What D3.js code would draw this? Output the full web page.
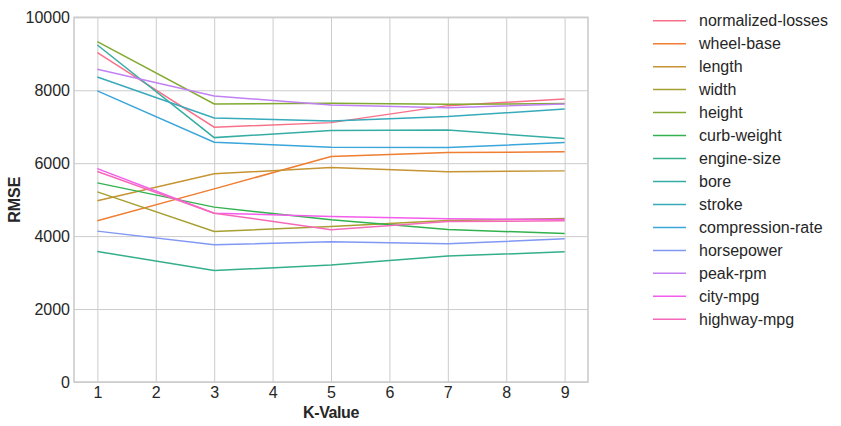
<!DOCTYPE html>
<html>
<head>
<meta charset="utf-8">
<script src="https://cdn.jsdelivr.net/npm/d3@7"></script>
<style>
  html, body { margin: 0; padding: 0; background: #ffffff; }
  svg { display: block; font-family: "Liberation Sans", Arial, sans-serif; }
</style>
</head>
<body>
<svg id="chart" width="841" height="426"></svg>
<script>
// ---- data ----
const kValues = [1, 3, 5, 7, 9];
const seriesNames = ["normalized-losses", "wheel-base", "length", "width", "height",
  "curb-weight", "engine-size", "bore", "stroke", "compression-rate",
  "horsepower", "peak-rpm", "city-mpg", "highway-mpg"];
const normalizedLosses = [9030, 6986, 7112, 7578, 7762];
const wheelBase        = [4419, 5296, 6181, 6290, 6310];
const lengthVals       = [4967, 5707, 5879, 5762, 5789];
const widthVals        = [5214, 4126, 4263, 4427, 4482];
const heightVals       = [9332, 7625, 7644, 7616, 7633];
const curbWeight       = [5460, 4795, 4447, 4181, 4071];
const engineSize       = [3578, 3058, 3205, 3452, 3570];
const bore             = [9241, 6701, 6893, 6912, 6674];
const stroke           = [8364, 7241, 7159, 7277, 7488];
const compressionRate  = [7981, 6575, 6438, 6427, 6564];
const horsepower       = [4137, 3762, 3844, 3789, 3926];
const peakRpm          = [8575, 7844, 7597, 7523, 7625];
const cityMpg          = [5852, 4630, 4537, 4474, 4455];
const highwayMpg       = [5770, 4630, 4173, 4400, 4419];
const seriesValues = [normalizedLosses, wheelBase, lengthVals, widthVals, heightVals,
  curbWeight, engineSize, bore, stroke, compressionRate, horsepower, peakRpm, cityMpg, highwayMpg];
const yTicks = [0, 2000, 4000, 6000, 8000, 10000];
const xTicks = [1, 2, 3, 4, 5, 6, 7, 8, 9];

(function () {
// ---- seaborn husl palette ----
const M = [[3.2406, -1.5372, -0.4986], [-0.9689, 1.8758, 0.0415], [0.0557, -0.2040, 1.0570]];
function maxChroma(L, H) {
  const hrad = H / 360 * 2 * Math.PI, sinH = Math.sin(hrad), cosH = Math.cos(hrad);
  const sub1 = Math.pow(L + 16, 3) / 1560896;
  const sub2 = sub1 > 0.008856 ? sub1 : L / 903.3;
  let result = Infinity;
  for (const [m1, m2, m3] of M) {
    const tp = (0.99915 * m1 + 1.05122 * m2 + 1.14460 * m3) * sub2;
    const rbottom = 0.86330 * m3 - 0.17266 * m2;
    const lbottom = 0.12949 * m3 - 0.38848 * m1;
    const bt = (rbottom * sinH + lbottom * cosH) * sub2;
    for (const t of [0, 1]) {
      const C = L * (tp - 1.05122 * t) / (bt + 0.17266 * sinH * t);
      if (C > 0 && C < result) result = C;
    }
  }
  return result;
}
function huslToRgb(H, S, L) {
  const C = maxChroma(L, H) / 100 * S;
  const hrad = H / 360 * 2 * Math.PI;
  const U = Math.cos(hrad) * C, V = Math.sin(hrad) * C;
  const t = (L + 16) / 116;
  const varY = Math.pow(t, 3) > 0.008856 ? Math.pow(t, 3) : (116 * t - 16) / 903.3;
  const varU = U / (13 * L) + 0.19784, varV = V / (13 * L) + 0.46834;
  const Y = varY;
  const X = 0 - (9 * Y * varU) / ((varU - 4) * varV - varU * varV);
  const Z = (9 * Y - 15 * varV * Y - varV * X) / (3 * varV);
  const fl = c => c <= 0.0031308 ? 12.92 * c : 1.055 * Math.pow(c, 1 / 2.4) - 0.055;
  return M.map(r => Math.max(0, Math.min(1, fl(r[0] * X + r[1] * Y + r[2] * Z))));
}
const n = seriesNames.length;
const colors = d3.range(n).map(i => {
  const h = (i / n + 0.01) % 1;
  const rgb = huslToRgb(h * 359, 0.9 * 99, 0.65 * 99);
  return d3.rgb(rgb[0] * 255, rgb[1] * 255, rgb[2] * 255).formatHex();
});

// ---- layout ----
const svg = d3.select("#chart");
const pLeft = 74, pRight = 588, pTop = 17.3, pBottom = 382;
const x = d3.scaleLinear().domain([0.6, 9.4]).range([pLeft, pRight]);
const y = d3.scaleLinear().domain([0, 10000]).range([pBottom, pTop]);
const textColor = "#262626", gridColor = "#cccccc";

const gx = svg.append("g").attr("transform", `translate(0,${pBottom})`)
  .call(d3.axisBottom(x).tickValues(xTicks).tickSize(-(pBottom - pTop)).tickPadding(2.5).tickFormat(d3.format("d")));
const gy = svg.append("g").attr("transform", `translate(${pLeft},0)`)
  .call(d3.axisLeft(y).tickValues(yTicks).tickSize(-(pRight - pLeft)).tickPadding(4).tickFormat(d3.format("d")));
[gx, gy].forEach(g => {
  g.select(".domain").remove();
  g.selectAll(".tick line").attr("stroke", gridColor).attr("stroke-width", 1);
  g.selectAll(".tick text").attr("fill", textColor).style("font-size", "16px")
    .style("font-family", "'Liberation Sans', Arial, sans-serif");
});
gx.selectAll(".tick text").attr("dy", "0.82em");

svg.append("rect").attr("x", pLeft).attr("y", pTop).attr("width", pRight - pLeft).attr("height", pBottom - pTop)
  .attr("fill", "none").attr("stroke", gridColor).attr("stroke-width", 1.6);

const line = d3.line().x((d, i) => x(kValues[i])).y(d => y(d));
svg.append("g").selectAll("path").data(seriesValues).join("path")
  .attr("d", line).attr("fill", "none")
  .attr("stroke", (d, i) => colors[i]).attr("stroke-width", 1.5);

svg.append("text").attr("x", (pLeft + pRight) / 2).attr("y", 417.5).attr("text-anchor", "middle")
  .attr("fill", textColor).style("font-size", "16px").style("font-weight", "bold")
  .style("letter-spacing", "-0.4px").text("K-Value");
svg.append("text").attr("transform", `translate(20,${(pTop + pBottom) / 2}) rotate(-90)`)
  .attr("text-anchor", "middle").attr("fill", textColor)
  .style("font-size", "16px").style("font-weight", "bold").text("RMSE");

const lg = svg.append("g");
seriesNames.forEach((name, i) => {
  const yy = 20.7 + i * 22.97;
  lg.append("line").attr("x1", 653).attr("x2", 686).attr("y1", yy).attr("y2", yy)
    .attr("stroke", colors[i]).attr("stroke-width", 1.5);
  lg.append("text").attr("x", 699).attr("y", yy).attr("dy", "0.35em")
    .attr("fill", textColor).style("font-size", "16px").text(name);
});
})();
</script>
</body>
</html>
